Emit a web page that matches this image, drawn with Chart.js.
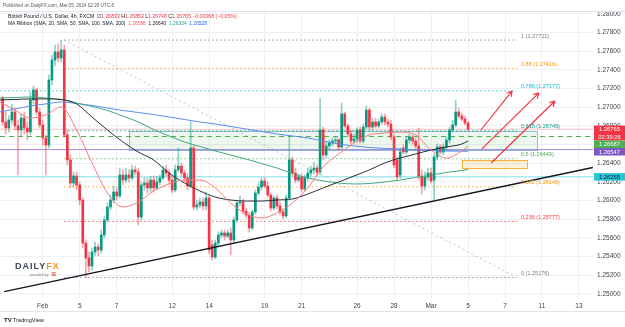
<!DOCTYPE html>
<html lang="en">
<head>
<meta charset="UTF-8">
<title>GBP/USD 4h - MA Ribbon and Fibonacci</title>
<script src="https://cdn.jsdelivr.net/npm/chart.js@4.4.4/dist/chart.umd.min.js"></script>
<style>
  html, body { margin: 0; padding: 0; background: #fff; }
  canvas { display: block; }
</style>
</head>
<body>
<canvas id="chart" width="625" height="327"></canvas>
<script>
// ---- data (4h bars, bar 0 = first bar of Feb 1) ----
const dayTicks  = [0, 12, 24, 42, 54, 72, 84, 102, 114, 126, 138, 150, 162, 174];
const dayLabels = ['Feb', '5', '7', '12', '14', '19', '21', '26', '28', 'Mar', '5', '7', '11', '13'];
const priceTicks = [1.25, 1.252, 1.254, 1.256, 1.258, 1.26, 1.262, 1.264, 1.266, 1.268, 1.27, 1.272, 1.274, 1.276, 1.278, 1.28];

const firstBar = -13;
const opens = [
  1.27100,
  1.26843, 1.26779, 1.26864, 1.26950, 1.26800, 1.26757,
  1.26886, 1.26779, 1.26736, 1.27079, 1.27186, 1.26950,
  1.26811, 1.26671, 1.26596, 1.27293, 1.27507, 1.27593,
  1.27529, 1.27614, 1.26704, 1.26436, 1.26189, 1.26264,
  1.26168, 1.26007, 1.25546, 1.25386, 1.25300, 1.25450,
  1.25504, 1.25471, 1.25632, 1.25793, 1.25932, 1.26007,
  1.26093, 1.26050, 1.26275, 1.26221, 1.26275, 1.26243,
  1.26329, 1.26307, 1.25825, 1.26168, 1.26189, 1.26136,
  1.26221, 1.26136, 1.26200, 1.26243, 1.26329, 1.26296,
  1.26221, 1.26114, 1.26329, 1.26371, 1.26296, 1.26243,
  1.26157, 1.26564, 1.25932, 1.25954, 1.25986, 1.25943,
  1.26029, 1.25525, 1.25396, 1.25546, 1.25632, 1.25654,
  1.25621, 1.25654, 1.25579, 1.25793, 1.25975, 1.25986,
  1.25889, 1.25846, 1.25707, 1.25879, 1.26082, 1.26146,
  1.26211, 1.26157, 1.26061, 1.25921, 1.26029, 1.25943,
  1.25879, 1.25836, 1.26029, 1.26436, 1.26296, 1.26221,
  1.26254, 1.26125, 1.26243, 1.26296, 1.26329, 1.26350,
  1.26307, 1.26757, 1.26489, 1.26586, 1.26618, 1.26639,
  1.26650, 1.26575, 1.26929, 1.26800, 1.26714, 1.26639,
  1.26661, 1.26757, 1.26639, 1.26789, 1.26971, 1.26789,
  1.26843, 1.26800, 1.26843, 1.26896, 1.26843, 1.26821,
  1.26682, 1.26436, 1.26275, 1.26564, 1.26521, 1.26650,
  1.26682, 1.26639, 1.26586, 1.26264, 1.26157, 1.26254,
  1.26296, 1.26221, 1.26468, 1.26575, 1.26521, 1.26575,
  1.26650, 1.26757, 1.26811, 1.26950, 1.26907, 1.26875,
  1.26833
];
const highs = [
  1.27121,
  1.26950, 1.26907, 1.27036, 1.26993, 1.26864, 1.26929,
  1.26950, 1.26843, 1.27164, 1.27229, 1.27207, 1.26993,
  1.26864, 1.26704, 1.27346, 1.27560, 1.27668, 1.27679,
  1.27721, 1.27668, 1.26757, 1.26489, 1.26307, 1.26307,
  1.26200, 1.26029, 1.25579, 1.25450, 1.25493, 1.25557,
  1.25536, 1.25686, 1.25836, 1.25975, 1.26061, 1.26157,
  1.26136, 1.26350, 1.26329, 1.26350, 1.26329, 1.26382,
  1.26371, 1.26350, 1.26200, 1.26243, 1.26243, 1.26264,
  1.26264, 1.26264, 1.26275, 1.26371, 1.26382, 1.26329,
  1.26264, 1.26382, 1.26564, 1.26404, 1.26329, 1.26286,
  1.26843, 1.26586, 1.26007, 1.26029, 1.26029, 1.26093,
  1.26050, 1.25579, 1.25579, 1.25664, 1.25686, 1.25686,
  1.25686, 1.25707, 1.25825, 1.26007, 1.26050, 1.26018,
  1.25921, 1.25879, 1.25900, 1.26114, 1.26189, 1.26243,
  1.26243, 1.26200, 1.26082, 1.26050, 1.26061, 1.25986,
  1.25911, 1.26061, 1.26682, 1.26468, 1.26350, 1.26286,
  1.26286, 1.26275, 1.26350, 1.26371, 1.26414, 1.26382,
  1.27100, 1.26789, 1.26629, 1.26650, 1.26671, 1.26682,
  1.26671, 1.27046, 1.26950, 1.26821, 1.26757, 1.26714,
  1.26779, 1.26789, 1.26821, 1.27014, 1.26993, 1.26886,
  1.26886, 1.26875, 1.26929, 1.26929, 1.26875, 1.26864,
  1.26704, 1.26468, 1.26564, 1.26596, 1.26682, 1.26714,
  1.26704, 1.26671, 1.26779, 1.26329, 1.26307, 1.26350,
  1.26350, 1.26500, 1.26607, 1.26596, 1.26607, 1.26682,
  1.26789, 1.26864, 1.27079, 1.26993, 1.26939, 1.26907,
  1.26853
];
const lows = [
  1.26811,
  1.26714, 1.26736, 1.26821, 1.26757, 1.26275, 1.26693,
  1.26714, 1.26650, 1.26704, 1.27036, 1.26918, 1.26779,
  1.26596, 1.26275, 1.26564, 1.27239, 1.27443, 1.27486,
  1.27486, 1.26682, 1.26382, 1.26136, 1.26146, 1.26114,
  1.25954, 1.25493, 1.25176, 1.25236, 1.25257, 1.25407,
  1.25407, 1.25439, 1.25600, 1.25771, 1.25900, 1.25975,
  1.26007, 1.26029, 1.26168, 1.26189, 1.26200, 1.26221,
  1.26275, 1.25739, 1.25793, 1.26114, 1.26082, 1.26093,
  1.26093, 1.26114, 1.26168, 1.26221, 1.26264, 1.26179,
  1.26082, 1.26093, 1.26307, 1.26264, 1.26200, 1.26114,
  1.26136, 1.25900, 1.25900, 1.25921, 1.25900, 1.25900,
  1.25429, 1.25364, 1.25375, 1.25514, 1.25600, 1.25579,
  1.25600, 1.25418, 1.25546, 1.25771, 1.25943, 1.25857,
  1.25814, 1.25664, 1.25686, 1.25857, 1.26061, 1.26114,
  1.26136, 1.26039, 1.25889, 1.25900, 1.25911, 1.25846,
  1.25804, 1.25814, 1.26007, 1.26264, 1.26189, 1.26200,
  1.26093, 1.26104, 1.26211, 1.26264, 1.26286, 1.26264,
  1.26275, 1.26436, 1.26457, 1.26543, 1.26586, 1.26618,
  1.26543, 1.26554, 1.26779, 1.26682, 1.26607, 1.26618,
  1.26629, 1.26618, 1.26618, 1.26768, 1.26757, 1.26757,
  1.26779, 1.26779, 1.26821, 1.26811, 1.26789, 1.26650,
  1.26350, 1.26221, 1.26243, 1.26500, 1.26500, 1.26618,
  1.26607, 1.26554, 1.26221, 1.26071, 1.26114, 1.26221,
  1.26189, 1.26007, 1.26436, 1.26500, 1.26489, 1.26543,
  1.26618, 1.26736, 1.26789, 1.26886, 1.26854, 1.26811,
  1.26748
];
const closes = [
  1.26843,
  1.26779, 1.26864, 1.26950, 1.26800, 1.26757, 1.26886,
  1.26779, 1.26736, 1.27079, 1.27186, 1.26950, 1.26811,
  1.26671, 1.26596, 1.27293, 1.27507, 1.27593, 1.27529,
  1.27614, 1.26704, 1.26436, 1.26189, 1.26264, 1.26168,
  1.26007, 1.25546, 1.25386, 1.25300, 1.25450, 1.25504,
  1.25471, 1.25632, 1.25793, 1.25932, 1.26007, 1.26093,
  1.26050, 1.26275, 1.26221, 1.26275, 1.26243, 1.26329,
  1.26307, 1.25825, 1.26168, 1.26189, 1.26136, 1.26221,
  1.26136, 1.26200, 1.26243, 1.26329, 1.26296, 1.26221,
  1.26114, 1.26329, 1.26371, 1.26296, 1.26243, 1.26157,
  1.26564, 1.25932, 1.25954, 1.25986, 1.25943, 1.26029,
  1.25471, 1.25396, 1.25546, 1.25632, 1.25654, 1.25621,
  1.25654, 1.25579, 1.25793, 1.25975, 1.25986, 1.25889,
  1.25846, 1.25707, 1.25879, 1.26082, 1.26146, 1.26211,
  1.26157, 1.26061, 1.25921, 1.26029, 1.25943, 1.25879,
  1.25836, 1.26029, 1.26436, 1.26296, 1.26221, 1.26254,
  1.26125, 1.26243, 1.26296, 1.26329, 1.26350, 1.26307,
  1.26757, 1.26489, 1.26586, 1.26618, 1.26639, 1.26650,
  1.26575, 1.26929, 1.26800, 1.26714, 1.26639, 1.26661,
  1.26757, 1.26639, 1.26789, 1.26971, 1.26789, 1.26843,
  1.26800, 1.26843, 1.26896, 1.26843, 1.26821, 1.26682,
  1.26382, 1.26254, 1.26521, 1.26521, 1.26650, 1.26682,
  1.26639, 1.26586, 1.26264, 1.26157, 1.26254, 1.26296,
  1.26211, 1.26468, 1.26575, 1.26521, 1.26575, 1.26650,
  1.26757, 1.26811, 1.26950, 1.26907, 1.26875, 1.26832,
  1.26765
];

// MA ribbon, sampled every 5 bars
const maBars = [-14, -9, -4, 1, 6, 11, 16, 21, 26, 31, 36, 41, 46, 51, 56, 61, 66, 71, 76, 81, 86, 91, 96, 101, 106, 111, 116, 121, 126, 131, 136, 138];
const sma20  = [1.27057, 1.26971, 1.26886, 1.26918, 1.27004, 1.26757, 1.26404, 1.26082, 1.25932, 1.25986, 1.26104, 1.26179, 1.26221, 1.26221, 1.26136, 1.25975, 1.25857, 1.25814, 1.25868, 1.25975, 1.26136, 1.26361, 1.26500, 1.26618, 1.26704, 1.26725, 1.26736, 1.26704, 1.26543, 1.26457, 1.26532, 1.26586];
const sma50  = [1.27079, 1.27084, 1.27090, 1.27090, 1.27084, 1.27036, 1.26896, 1.26757, 1.26629, 1.26521, 1.26436, 1.26296, 1.26189, 1.26104, 1.26039, 1.26007, 1.25996, 1.25996, 1.26007, 1.26018, 1.26071, 1.26136, 1.26200, 1.26264, 1.26329, 1.26404, 1.26457, 1.26500, 1.26543, 1.26575, 1.26607, 1.26640];
const sma100 = [1.27100, 1.27105, 1.27111, 1.27100, 1.27084, 1.27046, 1.27009, 1.26966, 1.26907, 1.26843, 1.26763, 1.26693, 1.26629, 1.26580, 1.26532, 1.26489, 1.26446, 1.26398, 1.26350, 1.26291, 1.26243, 1.26211, 1.26189, 1.26179, 1.26184, 1.26200, 1.26221, 1.26248, 1.26275, 1.26302, 1.26323, 1.26334];
const sma200 = [1.26950, 1.26982, 1.27014, 1.27036, 1.27057, 1.27041, 1.27020, 1.26993, 1.26966, 1.26945, 1.26923, 1.26896, 1.26870, 1.26843, 1.26821, 1.26795, 1.26768, 1.26741, 1.26714, 1.26693, 1.26671, 1.26639, 1.26607, 1.26586, 1.26570, 1.26559, 1.26554, 1.26543, 1.26538, 1.26532, 1.26530, 1.26528];

// Fibonacci retracement (Feb 2 high to Feb 5 low)
const fibLevels = [0, 0.236, 0.382, 0.5, 0.618, 0.786, 0.88, 1];
const fibPrices = [1.25176, 1.25777, 1.26149, 1.26449, 1.26749, 1.27177, 1.27416, 1.27721];
const fibBars = [6.9, 153.9];

// drawings
const trendBars = [-12.5, 178.5];
const trendPrices = [1.25025, 1.26355];
const levelPrices = [1.26765, 1.26687, 1.26547, 1.26255];
const zoneBars = [28, 160.4];
const zonePrices = [1.26749, 1.26547];
const boxBars = [136, 157.2];
const boxPrices = [1.26436, 1.26347];
const arrowFrom = [[142.2, 1.26757], [142.5, 1.26554], [145.5, 1.26404]];
const arrowTo   = [[152.3, 1.27175], [161.0, 1.27154], [166.2, 1.27068]];

const xMin = -13.855, xMax = 178.55;
const yMin = 1.24957, yMax = 1.28032;

// ---- styles ----
const FONT = '"Liberation Sans", Arial, sans-serif';
const UP = '#089981', DOWN = '#f23645';
const fibColors = ['#787b86', '#f44336', '#ff9800', '#4caf50', '#089981', '#00bcd4', '#ff9800', '#787b86'];
const levelStyles = [
  { color: 'rgba(242,54,69,0.3)', dash: [] },
  { color: '#4caf50', dash: [5, 4] },
  { color: 'rgba(126,87,194,0.7)', dash: [] },
  { color: 'rgba(0,188,212,0.5)', dash: [] }
];

const bars = opens.map((_, k) => firstBar + k);
const isUp = bars.map((_, k) => closes[k] >= opens[k]);
const pts = (xs, ys) => xs.map((v, k) => ({ x: v, y: ys[k] }));

const datasets = [];
// MAs
[[sma20, '#f77c80'], [sma50, '#2a2e39'], [sma100, '#43a87c'], [sma200, '#5b8def']].forEach(([vals, col]) => {
  datasets.push({
    type: 'line', data: pts(maBars, vals), borderColor: col, borderWidth: 1,
    pointRadius: 0, cubicInterpolationMode: 'monotone', order: 1
  });
});
// candle wicks and bodies
datasets.push({
  type: 'bar', data: bars.map((b, k) => ({ x: b, y: [lows[k], highs[k]] })),
  backgroundColor: isUp.map(u => u ? 'rgba(8,153,129,0.45)' : 'rgba(242,54,69,0.45)'),
  barThickness: 1, grouped: false, order: 3
});
datasets.push({
  type: 'bar', data: bars.map((b, k) => ({ x: b, y: [opens[k], closes[k]] })),
  backgroundColor: isUp.map(u => u ? UP : DOWN),
  barThickness: 2, minBarLength: 1, grouped: false, order: 2
});
// horizontal levels
levelPrices.forEach((p, k) => {
  datasets.push({
    type: 'line', data: pts([xMin, xMax], [p, p]), borderColor: levelStyles[k].color,
    borderDash: levelStyles[k].dash, borderWidth: 1, pointRadius: 0, order: 5
  });
});
// fib levels
fibPrices.forEach((p, k) => {
  const start = fibLevels[k] === 0.786 ? xMin : fibBars[0];
  datasets.push({
    type: 'line', data: pts([start, fibBars[1]], [p, p]), borderColor: fibColors[k] + '99',
    borderDash: [2, 2], borderWidth: 1, pointRadius: 0, order: 6
  });
});
datasets.push({
  type: 'line', data: pts(fibBars, [fibPrices[7], fibPrices[0]]), borderColor: 'rgba(120,123,134,0.45)',
  borderDash: [2, 3], borderWidth: 1, pointRadius: 0, order: 6
});
// rising trendline
datasets.push({
  type: 'line', data: pts(trendBars, trendPrices), borderColor: '#131722',
  borderWidth: 1.4, pointRadius: 0, order: 0
});

function segText(ctx, x, y, segs) {
  segs.forEach(([t, c]) => { ctx.fillStyle = c; ctx.fillText(t, x, y); x += ctx.measureText(t).width; });
}

const overlay = {
  id: 'overlay',
  beforeDatasetsDraw(chart) {
    const { ctx, scales: { x, y } } = chart;
    ctx.save();
    const rect = (bx, py, fill, stroke) => {
      const x0 = x.getPixelForValue(bx[0]), x1 = x.getPixelForValue(bx[1]);
      const y0 = y.getPixelForValue(py[0]), y1 = y.getPixelForValue(py[1]);
      ctx.fillStyle = fill; ctx.fillRect(x0, y0, x1 - x0, y1 - y0);
      ctx.strokeStyle = stroke; ctx.lineWidth = 1;
      ctx.strokeRect(Math.round(x0) + 0.5, Math.round(y0) + 0.5, Math.round(x1 - x0), Math.round(y1 - y0));
    };
    rect(zoneBars, zonePrices, 'rgba(76,175,80,0.10)', 'rgba(70,150,190,0.6)');
    rect(boxBars, boxPrices, 'rgba(255,152,0,0.14)', 'rgba(255,167,38,0.9)');
    ctx.restore();
  },
  afterDatasetsDraw(chart) {
    const { ctx, scales: { x, y } } = chart;
    ctx.save();
    // arrows
    ctx.strokeStyle = '#f23645'; ctx.lineWidth = 1.2;
    arrowFrom.forEach((f, k) => {
      const ax = x.getPixelForValue(f[0]), ay = y.getPixelForValue(f[1]);
      const bx = x.getPixelForValue(arrowTo[k][0]), by = y.getPixelForValue(arrowTo[k][1]);
      const ang = Math.atan2(by - ay, bx - ax);
      ctx.beginPath(); ctx.moveTo(ax, ay); ctx.lineTo(bx, by);
      [-0.5, 0.5].forEach(d => {
        ctx.moveTo(bx, by);
        ctx.lineTo(bx - 6 * Math.cos(ang + d), by - 6 * Math.sin(ang + d));
      });
      ctx.stroke();
    });
    // fib labels
    ctx.font = '5.5px ' + FONT; ctx.textBaseline = 'middle'; ctx.textAlign = 'left';
    const lx = x.getPixelForValue(fibBars[1]) + 4;
    fibPrices.forEach((p, k) => {
      ctx.fillStyle = fibColors[k];
      ctx.fillText(fibLevels[k] + ' (' + p.toFixed(5) + ')', lx, y.getPixelForValue(p) - 4);
    });
    ctx.restore();
  },
  afterDraw(chart) {
    const { ctx, scales: { y }, chartArea: a } = chart;
    ctx.save();
    // header
    ctx.fillStyle = '#fff'; ctx.fillRect(0, 0, 625, a.top);
    ctx.strokeStyle = '#e0e3eb'; ctx.lineWidth = 1;
    ctx.beginPath(); ctx.moveTo(0, a.top + 0.5); ctx.lineTo(625, a.top + 0.5);
    ctx.moveTo(0, 311.5); ctx.lineTo(625, 311.5); ctx.stroke();
    ctx.textBaseline = 'middle'; ctx.textAlign = 'left';
    ctx.font = '4.6px ' + FONT;
    ctx.fillStyle = '#555'; ctx.fillText('Published on DailyFX.com, Mar 05, 2024 02:20 UTC-5', 3, 5.5);
    const dk = '#131722', rd = '#f23645';
    ctx.font = '5.2px ' + FONT;
    segText(ctx, 8, 16.5, [['British Pound / U.S. Dollar, 4h, FXCM  O', dk], ['1.26833', rd], [' H', dk], ['1.26853', rd],
      [' L', dk], ['1.26748', rd], [' C', dk], ['1.26765', rd], [' \u22120.00068 (\u22120.05%)', rd]]);
    ctx.font = '4.9px ' + FONT;
    segText(ctx, 8, 24, [['MA Ribbon (SMA, 20, SMA, 50, SMA, 100, SMA, 200)  ', dk], ['1.26586', '#f7525f'],
      ['  1.26640', dk], ['  1.26334', '#22ab94'], ['  1.26528', '#2962ff']]);

    // price tags on the axis
    const tags = [
      { v: levelPrices[0], lines: [levelPrices[0].toFixed(5), '02:39:26'], bg: '#f23645', fg: '#fff' },
      { v: levelPrices[1], lines: [levelPrices[1].toFixed(5)], bg: '#4caf50', fg: '#fff' },
      { v: levelPrices[2], lines: [levelPrices[2].toFixed(5)], bg: '#7e57c2', fg: '#fff' },
      { v: levelPrices[3], lines: [levelPrices[3].toFixed(5)], bg: '#26c6da', fg: '#131722' }
    ];
    let floor = -1e9;
    const lh = 7.5;
    ctx.font = '5.8px ' + FONT; ctx.textAlign = 'center';
    tags.forEach(t => {
      let top = Math.max(y.getPixelForValue(t.v) - lh / 2, floor);
      const h = lh * t.lines.length;
      ctx.fillStyle = t.bg; ctx.fillRect(a.right + 1, top, 625 - a.right - 1, h);
      ctx.fillStyle = t.fg;
      t.lines.forEach((s, i) => ctx.fillText(s, (a.right + 626) / 2, top + lh * (i + 0.5) + 0.3));
      floor = top + h;
    });

    // DailyFX mark
    ctx.textAlign = 'left';
    ctx.font = 'bold 9px ' + FONT;
    ctx.letterSpacing = '1px';
    ctx.fillStyle = '#3d4852'; ctx.fillText('DAILY', 15, 267);
    const w = ctx.measureText('DAILY').width;
    ctx.fillStyle = '#f7931e'; ctx.fillText('FX', 15 + w, 267);
    ctx.letterSpacing = '0px';
    ctx.font = '3.6px ' + FONT; ctx.fillStyle = '#7a8088';
    ctx.fillText('provided by', 30, 274.5);
    ctx.fillStyle = '#e8361f'; ctx.font = 'bold 4.5px ' + FONT; ctx.fillText('IG', 51.5, 274.5);

    // TradingView footer
    ctx.fillStyle = '#131722';
    ctx.font = 'bold 6px ' + FONT; ctx.fillText('TV', 4, 320);
    ctx.font = '5.6px ' + FONT; ctx.fillText('TradingView', 13, 320);
    ctx.restore();
  }
};

new Chart(document.getElementById('chart'), {
  type: 'bar',
  data: { datasets },
  options: {
    responsive: false, animation: false, devicePixelRatio: 1,
    layout: { padding: { top: 11, left: 0, right: 0, bottom: 0 } },
    plugins: { legend: { display: false }, tooltip: { enabled: false } },
    scales: {
      x: {
        type: 'linear', min: xMin, max: xMax, offset: false,
        grid: { color: '#eef0f4', drawTicks: false, offset: false },
        border: { display: false },
        afterBuildTicks: s => { s.ticks = dayTicks.map(v => ({ value: v })); },
        afterFit: s => { s.height = 29; },
        ticks: {
          autoSkip: false, maxRotation: 0, padding: 4, color: '#3b3f4a',
          font: { size: 6.5, family: FONT },
          callback: v => dayLabels[dayTicks.indexOf(v)]
        }
      },
      y: {
        position: 'right', min: yMin, max: yMax,
        grid: { color: '#eef0f4', drawTicks: false },
        border: { display: false },
        afterBuildTicks: s => { s.ticks = priceTicks.map(v => ({ value: v })); },
        afterFit: s => { s.width = 32; },
        ticks: {
          padding: 4, color: '#3b3f4a', font: { size: 6.5, family: FONT },
          callback: v => v.toFixed(5)
        }
      }
    }
  },
  plugins: [overlay]
});
</script>
</body>
</html>
